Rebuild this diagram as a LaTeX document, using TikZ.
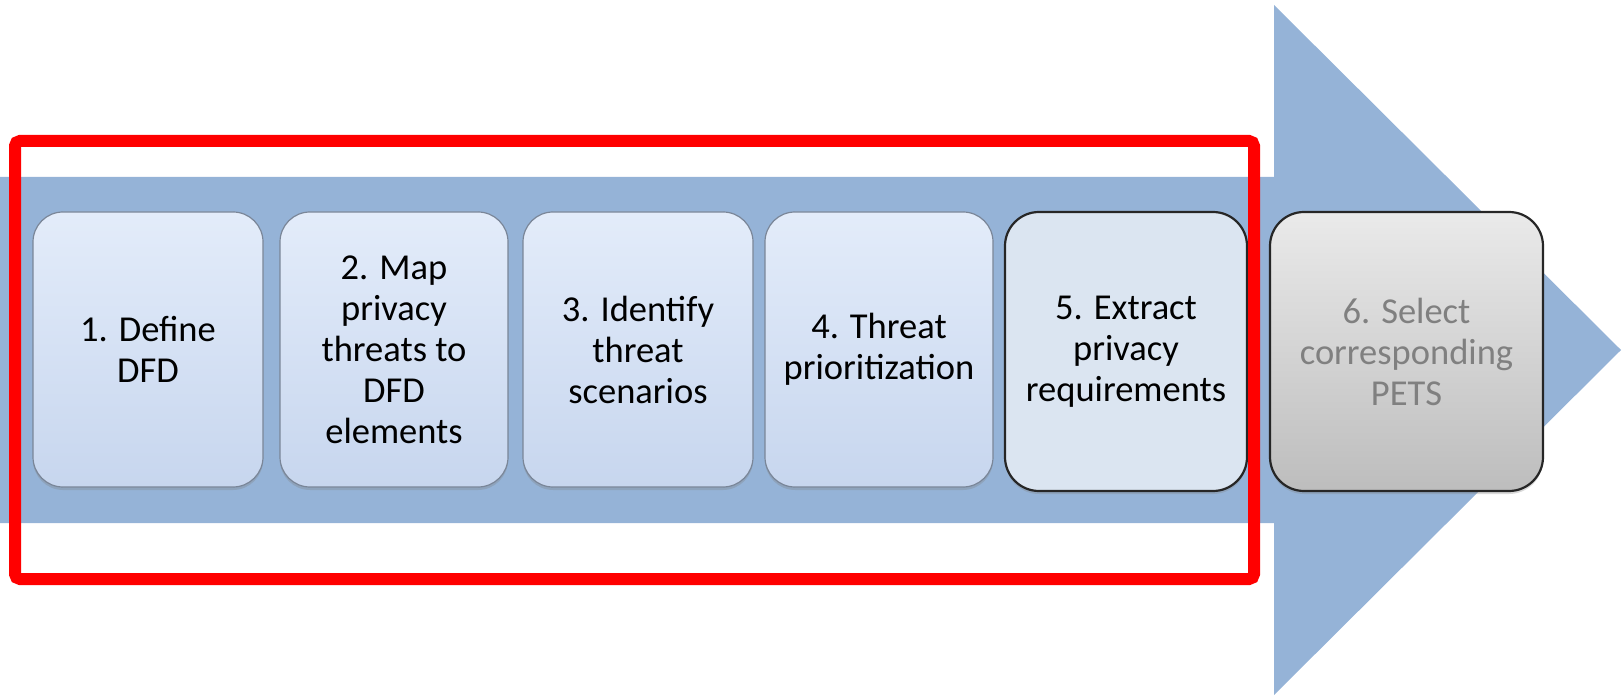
\documentclass[tikz,border=0pt]{standalone}
\usepackage{fontspec}
\setmainfont{Carlito}
\usetikzlibrary{shadows}
\definecolor{bandblue}{HTML}{95B3D7}
\definecolor{boxtop}{HTML}{E3ECFA}
\definecolor{boxbot}{HTML}{C7D6EE}
\definecolor{boxedge}{HTML}{7A8698}
\definecolor{fivefill}{HTML}{DBE5F1}
\definecolor{sixtop}{HTML}{EAEAEA}
\definecolor{sixbot}{HTML}{BDBDBD}
\definecolor{sixtext}{HTML}{808080}
\definecolor{redline}{HTML}{FF0000}
\begin{document}
\begin{tikzpicture}[x=0.5pt,y=-0.5pt,
  basebox/.style={rectangle, align=center, inner sep=0pt,
    font=\fontsize{18.25pt}{20.5pt}\selectfont,
    drop shadow={opacity=0.3, shadow xshift=0pt, shadow yshift=-1.5pt}},
  stepbox/.style={basebox, rounded corners=15pt, draw=boxedge, line width=0.6pt,
    top color=boxtop, bottom color=boxbot, minimum height=137.5pt},
  currentbox/.style={basebox, rounded corners=17pt, draw=black!85, line width=1.1pt,
    fill=fivefill, minimum height=139.5pt},
  futurebox/.style={basebox, rounded corners=17pt, draw=black!85, line width=1.1pt,
    top color=sixtop, bottom color=sixbot, text=sixtext, minimum height=139.5pt},
  redframe/.style={draw=redline, line width=6pt, rounded corners=2.5pt}]
\useasboundingbox (0,0) rectangle (1624,695);
% big arrow
\fill[bandblue] (0,177) -- (1274,177) -- (1274,5) -- (1621,350) -- (1274,695)
  -- (1274,523) -- (0,523) -- cycle;
% steps
\node[stepbox, minimum width=115pt] (box1) at (148,349.5) {1. Define\\DFD};
\node[stepbox, minimum width=114pt] (box2) at (394,349.5) {2. Map\\privacy\\threats to\\DFD\\elements};
\node[stepbox, minimum width=115pt] (box3) at (638,349.5) {3. Identify\\threat\\scenarios};
\node[stepbox, minimum width=114pt] (box4) at (879,349.5) {4. Threat\\prioritization};
\node[currentbox, minimum width=121pt] (box5) at (1126,351.5) {5. Extract\\privacy\\requirements};
\node[futurebox, minimum width=136.5pt] (box6) at (1406.5,351.5) {6. Select\\corresponding\\PETS};
% red frame
\draw[redframe] (15,141) rectangle (1254,579);
\end{tikzpicture}
\end{document}
